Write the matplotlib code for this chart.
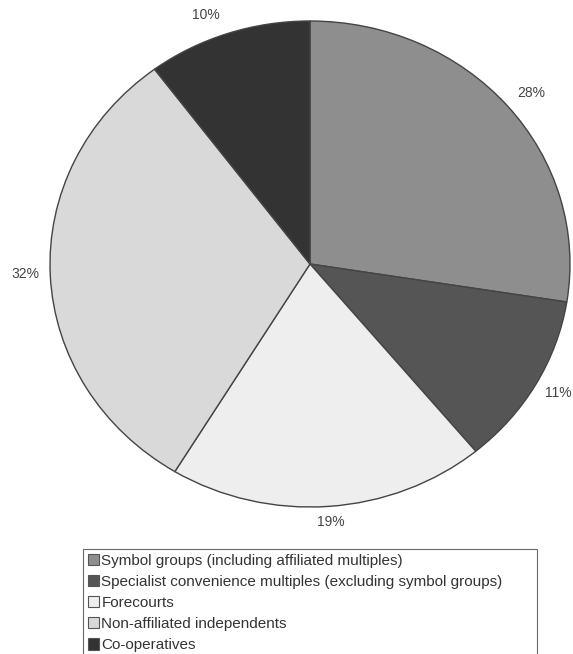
import matplotlib
matplotlib.use("Agg")
import matplotlib.pyplot as plt
from matplotlib.patches import Patch

categories = ["Symbol groups (including affiliated multiples)",
              "Specialist convenience multiples (excluding symbol groups)",
              "Forecourts",
              "Non-affiliated independents",
              "Co-operatives"]
values = [27.5, 11.5, 19.7, 31.1, 10.2]
labels = ["28%", "11%", "19%", "32%", "10%"]
colors = ["#8e8e8e", "#555555", "#eeeeee", "#d9d9d9", "#333333"]
# label centres in pie-axis units (radius = 1)
label_xy = [(0.85, 0.704), (0.954, -0.531), (0.081, -1.062), (-1.096, -0.041), (-0.4, 1.025)]

plt.rcParams['font.family'] = ['Liberation Sans', 'DejaVu Sans']

W, H = 573, 654
fig = plt.figure(figsize=(W/100, H/100), dpi=100)
ax = fig.add_axes([50/W, (H-507)/H, 520/W, 486/H])
wedges, texts = ax.pie(values, labels=labels, colors=colors, startangle=90,
                       counterclock=False, labeldistance=1.09,
                       wedgeprops=dict(edgecolor="#444444", linewidth=1.0),
                       textprops=dict(fontsize=10, color="#444444"))
for t, xy in zip(texts, label_xy):
    t.set_position(xy)
    t.set_ha("center")
    t.set_va("center")
ax.set_aspect('auto')
ax.set_xlim(-1, 1)
ax.set_ylim(-1, 1)

handles = [Patch(facecolor=c, edgecolor="#555555", linewidth=0.8) for c in colors]
leg = fig.legend(handles, categories, loc="upper left", mode="expand",
                 bbox_to_anchor=(83/W, 1-549/H - 0.01, (537-83)/W, 0.01),
                 bbox_transform=fig.transFigure,
                 fancybox=False, frameon=True, edgecolor="#444444",
                 fontsize=11, handlelength=0.75, handleheight=0.75,
                 handletextpad=0.15, labelspacing=0.47, borderpad=0.3,
                 borderaxespad=0)
leg.get_frame().set_linewidth(0.8)
for t in leg.get_texts():
    t.set_color("#333333")

fig.savefig("out.png", dpi=100)
